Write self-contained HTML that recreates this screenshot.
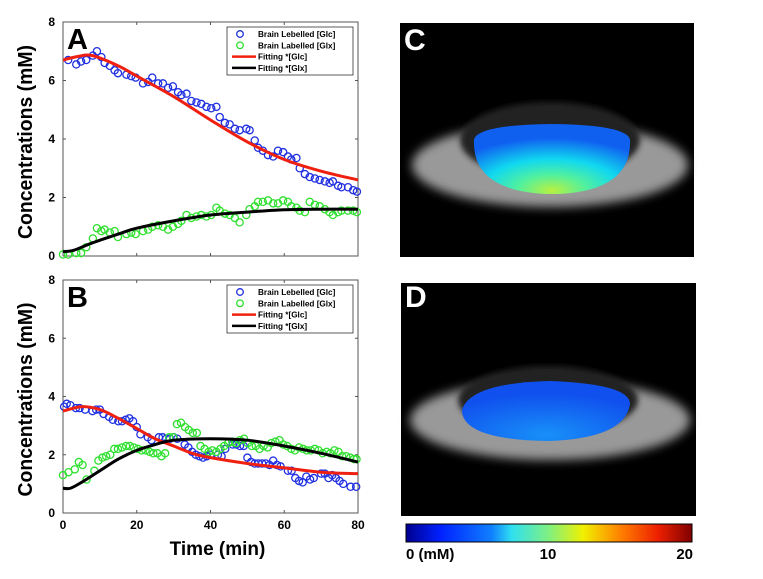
<!DOCTYPE html>
<html><head><meta charset="utf-8"><style>
body{margin:0;background:#fff;width:763px;height:574px;overflow:hidden;font-family:"Liberation Sans",sans-serif}
svg text{font-family:"Liberation Sans",sans-serif}
</style></head><body>
<svg id="fig" width="763" height="574" xmlns="http://www.w3.org/2000/svg">
<defs>
<radialGradient id="gC" cx="0.5" cy="0.95" r="0.75">
<stop offset="0" stop-color="#b8f040"/><stop offset="0.3" stop-color="#50f0a0"/><stop offset="0.6" stop-color="#10d8f0"/><stop offset="1" stop-color="#1060f0"/></radialGradient>
<radialGradient id="gD" cx="0.5" cy="0.9" r="0.7">
<stop offset="0" stop-color="#1890f8"/><stop offset="1" stop-color="#1050ee"/></radialGradient>
<filter id="blur" x="-20%" y="-50%" width="140%" height="200%"><feGaussianBlur stdDeviation="5"/></filter>
<filter id="blur2" x="-20%" y="-50%" width="140%" height="200%"><feGaussianBlur stdDeviation="3"/></filter>
<linearGradient id="cbar" x1="0" x2="1">
<stop offset="0" stop-color="#00008f"/><stop offset="0.12" stop-color="#0020ff"/><stop offset="0.3" stop-color="#1080ff"/><stop offset="0.37" stop-color="#30e0f0"/><stop offset="0.5" stop-color="#80f080"/><stop offset="0.62" stop-color="#f0f000"/><stop offset="0.75" stop-color="#ff8000"/><stop offset="0.88" stop-color="#ee2000"/><stop offset="1" stop-color="#800000"/></linearGradient>
</defs>
<g id="plots"></g>
<g>
<rect x="400" y="23" width="294" height="234" fill="#000"/>
<ellipse cx="550" cy="165" rx="138" ry="42" fill="#999" filter="url(#blur)"/>
<ellipse cx="550" cy="140" rx="90" ry="38" fill="#222" filter="url(#blur2)"/>
<path d="M474,140 Q476,125 552,124 Q628,125 630,140 Q632,190 560,194 L545,194 Q472,190 474,140Z" fill="url(#gC)"/>
<text x="404" y="50" font-size="30" font-weight="bold" fill="#fff">C</text>
</g>
<g>
<rect x="401" y="283" width="295" height="233" fill="#000"/>
<ellipse cx="550" cy="420" rx="140" ry="40" fill="#999" filter="url(#blur)"/>
<ellipse cx="548" cy="400" rx="90" ry="34" fill="#222" filter="url(#blur2)"/>
<path d="M462,410 Q470,383 550,381 Q630,384 630,404 Q625,438 550,441 Q462,440 462,410Z" fill="url(#gD)"/>
<text x="405" y="307" font-size="30" font-weight="bold" fill="#fff">D</text>
</g>
<g>
<rect x="406" y="524" width="286" height="18" fill="url(#cbar)" stroke="#000" stroke-width="1"/>
<text x="406" y="559" font-size="15" font-weight="bold">0 (mM)</text>
<text x="548" y="559" font-size="15" font-weight="bold" text-anchor="middle">10</text>
<text x="693" y="559" font-size="15" font-weight="bold" text-anchor="end">20</text>
</g>
</svg>
<script>
const xTicks=[0,20,40,60,80];
const yTicks=[0,2,4,6,8];
const glcA=[[1.4,6.7],[3.6,6.55],[4.9,6.65],[6.3,6.7],[8.1,6.85],[9.2,7.0],[10.4,6.8],[11.3,6.6],[12.7,6.5],[14,6.35],[14.9,6.25],[17.2,6.2],[18.5,6.15],[19.7,6.1],[21.7,5.9],[23.1,5.95],[24.2,6.1],[25.8,5.9],[27.1,5.9],[28.5,5.75],[29.8,5.8],[31.2,5.6],[32.1,5.5],[33.5,5.55],[34.8,5.3],[36.2,5.25],[37.5,5.2],[38.9,5.1],[40.2,5.05],[41.6,5.1],[42.5,4.75],[43.9,4.55],[45.2,4.5],[46.6,4.35],[47.9,4.3],[49.7,4.35],[50.6,4.3],[52,3.95],[52.9,3.7],[54.2,3.6],[55.6,3.45],[57,3.4],[58.3,3.6],[59.7,3.55],[61,3.4],[61.9,3.3],[63.3,3.35],[64.2,3.0],[65.6,2.8],[66.9,2.7],[68.3,2.65],[69.6,2.6],[71,2.55],[72.3,2.5],[73.2,2.55],[74.6,2.4],[75.5,2.35],[77.3,2.35],[78.7,2.25],[79.7,2.2]];
const glxA=[[0,0.05],[1.4,0.05],[3.6,0.1],[4.9,0.1],[6.3,0.3],[8.1,0.6],[9.2,0.95],[10.4,0.85],[11.3,0.9],[12.7,0.8],[14,0.85],[14.9,0.65],[17.2,0.75],[18.5,0.8],[19.7,0.75],[21.7,0.85],[23.1,0.9],[24.2,1.0],[25.8,1.05],[27.1,1.0],[28.5,0.9],[29.8,1.0],[31.2,1.1],[32.1,1.2],[33.5,1.4],[34.8,1.3],[36.2,1.35],[37.5,1.4],[38.9,1.35],[40.2,1.4],[41.6,1.65],[42.5,1.55],[43.9,1.45],[45.2,1.4],[46.6,1.3],[47.9,1.15],[49.7,1.4],[50.6,1.6],[52,1.7],[52.9,1.85],[54.2,1.85],[55.6,1.9],[57,1.8],[58.3,1.8],[59.7,1.9],[61,1.85],[61.9,1.7],[63.3,1.65],[64.2,1.55],[65.6,1.5],[66.9,1.85],[68.3,1.75],[69.6,1.7],[71,1.6],[72.3,1.5],[73.2,1.4],[74.6,1.5],[75.5,1.55],[77.3,1.55],[78.7,1.55],[79.7,1.5]];
const fitGlcA=[[0,6.7],[4,6.82],[8,6.85],[15,6.5],[20,6.15],[30,5.45],[40,4.65],[50,3.9],[60,3.3],[70,2.9],[80,2.6]];
const fitGlxA=[[0,0.15],[3,0.2],[8,0.45],[15,0.75],[20,0.95],[30,1.2],[40,1.4],[50,1.5],[60,1.58],[70,1.6],[80,1.6]];
const glcB=[[0.3,3.65],[1,3.75],[2,3.7],[3.5,3.6],[4.5,3.6],[6,3.55],[8,3.5],[9,3.55],[10,3.55],[11,3.4],[12.5,3.3],[13.5,3.2],[15,3.15],[16,3.15],[17,3.2],[18,3.25],[19,3.15],[20,2.95],[21,2.7],[23,2.6],[24,2.5],[26,2.6],[27,2.6],[28,2.55],[29,2.55],[30,2.6],[31,2.55],[33,2.35],[34,2.25],[35,2.1],[36,2.0],[37,1.95],[38,1.9],[39,1.95],[40,2.0],[42,2.0],[43,1.95],[44,2.2],[46,2.35],[47,2.35],[48,2.3],[49,2.3],[50,1.9],[51,1.75],[52,1.7],[53,1.7],[54,1.7],[55,1.7],[56,1.65],[57,1.8],[58,1.65],[59,1.6],[61,1.45],[62,1.45],[63,1.2],[64,1.1],[65,1.05],[66,1.25],[67,1.15],[68,1.2],[70,1.35],[71,1.35],[72,1.2],[73,1.3],[74,1.2],[75,1.1],[76,1.0],[78,0.9],[79.5,0.9]];
const glxB=[[0,1.3],[1.5,1.4],[3.2,1.5],[4.3,1.75],[5.3,1.65],[6.4,1.15],[8.5,1.45],[9.6,1.8],[10.7,1.9],[11.7,1.95],[12.8,2.0],[13.9,2.2],[14.9,2.2],[16,2.25],[17.1,2.3],[18.1,2.3],[19.2,2.25],[20.3,2.2],[21.3,2.15],[22.4,2.15],[23.5,2.1],[24.5,2.05],[25.6,2.05],[26.7,1.95],[27.7,2.05],[28.8,2.6],[29.9,2.6],[30.9,3.05],[32,3.1],[33.1,2.95],[34.1,2.85],[35.2,2.75],[36.3,2.75],[37.3,2.3],[38.4,2.2],[39.5,2.1],[40.5,2.15],[41.6,2.1],[42.7,2.2],[43.7,2.3],[44.8,2.4],[45.9,2.45],[46.9,2.4],[48,2.5],[49.1,2.55],[50.1,2.4],[51.2,2.3],[52.3,2.3],[53.3,2.2],[54.4,2.3],[55.5,2.25],[56.5,2.4],[57.6,2.45],[58.7,2.5],[59.7,2.35],[60.8,2.3],[61.9,2.2],[62.9,2.15],[64,2.25],[65.1,2.2],[66.1,2.15],[67.2,2.15],[68.3,2.2],[69.3,2.15],[70.4,2.05],[71.5,2.1],[72.5,2.05],[73.6,2.15],[74.7,2.1],[75.7,1.95],[76.8,1.95],[77.9,1.9],[78.9,1.85],[79.6,1.85]];
const fitGlcB=[[0,3.5],[5,3.65],[10,3.55],[15,3.25],[20,2.9],[25,2.55],[30,2.3],[35,2.05],[40,1.9],[50,1.7],[60,1.55],[70,1.4],[80,1.35]];
const fitGlxB=[[0,0.85],[2,0.85],[5,1.05],[10,1.45],[15,1.85],[20,2.15],[25,2.35],[30,2.5],[40,2.55],[50,2.5],[60,2.3],[70,2.05],[80,1.75]];
const legendLabels=["Brain Lebelled [Glc]","Brain Labelled [Glx]","Fitting *[Glc]","Fitting *[Glx]"];

const NS="http://www.w3.org/2000/svg";
const root=document.getElementById('plots');
function mk(tag,attrs,parent){const e=document.createElementNS(NS,tag);for(const k in attrs)e.setAttribute(k,attrs[k]);(parent||root).appendChild(e);return e;}
function smooth(pts){let d='M'+pts[0][0]+','+pts[0][1];for(let i=0;i<pts.length-1;i++){const p0=pts[Math.max(0,i-1)],p1=pts[i],p2=pts[i+1],p3=pts[Math.min(pts.length-1,i+2)];d+=' C'+(p1[0]+(p2[0]-p0[0])/6)+','+(p1[1]+(p2[1]-p0[1])/6)+' '+(p2[0]-(p3[0]-p1[0])/6)+','+(p2[1]-(p3[1]-p1[1])/6)+' '+p2[0]+','+p2[1];}return d;}
function panel(id,top,bottom,letter,glc,glx,fglc,fglx,showX){
  const L=63,R=358;
  const xs=v=>L+(v/80)*(R-L), ys=v=>bottom-(v/8)*(bottom-top);
  const g=mk('g',{});
  
  
  const fr=mk('rect',{x:L,y:top,width:R-L,height:bottom-top,fill:'#fff',stroke:'#555','stroke-width':1},g);
  
  
  xTicks.forEach(t=>{mk('line',{x1:xs(t),x2:xs(t),y1:bottom,y2:bottom-3,stroke:'#555'},g);mk('line',{x1:xs(t),x2:xs(t),y1:top,y2:top+3,stroke:'#555'},g);
    if(showX){const tx=mk('text',{x:xs(t),y:bottom+16,'font-size':12,'font-weight':'bold','text-anchor':'middle'},g);tx.textContent=t;
    
    }});
  yTicks.forEach(t=>{mk('line',{x1:L,x2:L+3,y1:ys(t),y2:ys(t),stroke:'#555'},g);mk('line',{x1:R,x2:R-3,y1:ys(t),y2:ys(t),stroke:'#555'},g);
    const tx=mk('text',{x:L-8,y:ys(t)+4,'font-size':12,'font-weight':'bold','text-anchor':'end'},g);tx.textContent=t;
    
    });
  const yt=mk('text',{transform:'translate(32,'+((top+bottom)/2+3)+') rotate(-90)','font-size':20,'font-weight':'bold','text-anchor':'middle',textLength:194,lengthAdjust:'spacingAndGlyphs'},g);
  yt.textContent='Concentrations (mM)';
  
  
  glc.forEach(p=>{const c=mk('circle',{cx:xs(p[0]),cy:ys(p[1]),r:3.6,fill:'none',stroke:'#2030e0','stroke-width':1.3},g);
    
    });
  glx.forEach(p=>{const c=mk('circle',{cx:xs(p[0]),cy:ys(p[1]),r:3.6,fill:'none',stroke:'#30e030','stroke-width':1.3},g);
    
    });
  const l1=mk('path',{d:smooth(fglc.map(p=>[xs(p[0]),ys(p[1])])),fill:'none',stroke:'#f02010','stroke-width':3},g);
  
  
  const l2=mk('path',{d:smooth(fglx.map(p=>[xs(p[0]),ys(p[1])])),fill:'none',stroke:'#000','stroke-width':3},g);
  
  
  const lt=mk('text',{x:L+4,y:top+27,'font-size':29,'font-weight':'bold'},g);lt.textContent=letter;
  
  
  const lg=mk('g',{},g);
  
  
  mk('rect',{x:227,y:top+5,width:126,height:48,fill:'#fff',stroke:'#333','stroke-width':0.8},lg);
  legendLabels.forEach((s,i)=>{const y=top+12+i*11.3;
    if(i<2){mk('circle',{cx:240,cy:y,r:3.3,fill:'none',stroke:i?'#30e030':'#2030e0','stroke-width':1.3},lg);}
    else mk('line',{x1:232,x2:256,y1:y,y2:y,stroke:i==2?'#f02010':'#000','stroke-width':2.5},lg);
    const t=mk('text',{x:258,y:y+3,'font-size':8.2,'font-weight':'bold'},lg);t.textContent=s;
    
    });
  if(showX){const xt=mk('text',{x:(L+R)/2+7,y:bottom+42,'font-size':19,'font-weight':'bold','text-anchor':'middle'},g);xt.textContent='Time (min)';
    
    }
}
panel('a',22,256,'A',glcA,glxA,fitGlcA,fitGlxA,false);
panel('b',280,513,'B',glcB,glxB,fitGlcB,fitGlxB,true);
</script>
</body></html>
